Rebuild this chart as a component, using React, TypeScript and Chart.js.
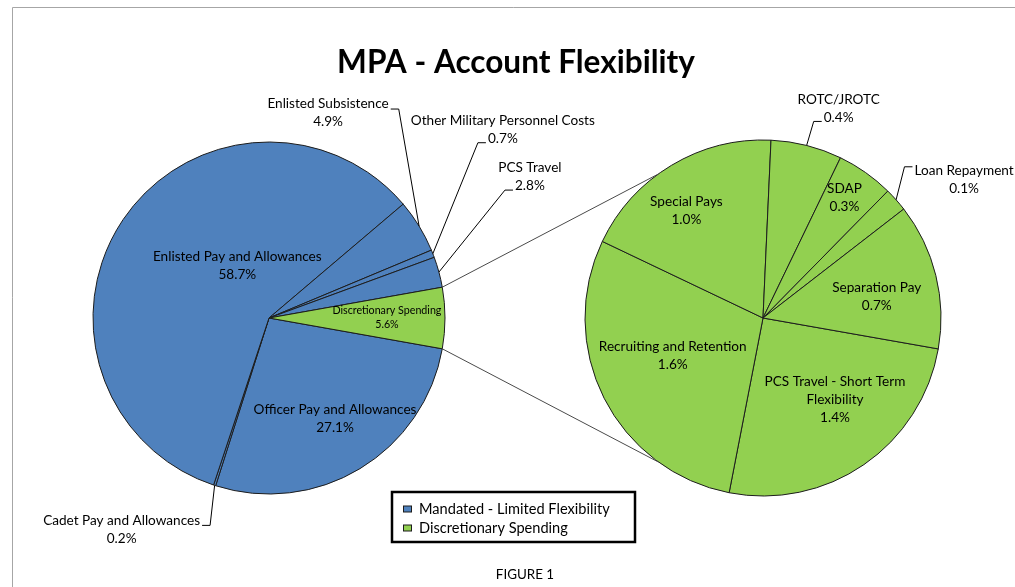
import React, { useEffect, useRef } from "react";
import { Chart, registerables } from "chart.js";

Chart.register(...registerables);

// ---------- DATA ----------
const chartTitle = "MPA - Account Flexibility";
const figureCaption = "FIGURE 1";
const legendLabels = ["Mandated - Limited Flexibility", "Discretionary Spending"];

const mainLabels = [
  "Officer Pay and Allowances",
  "Cadet Pay and Allowances",
  "Enlisted Pay and Allowances",
  "Enlisted Subsistence",
  "Other Military Personnel Costs",
  "PCS Travel",
  "Discretionary Spending",
];
const mainValues = [27.1, 0.2, 58.7, 4.9, 0.7, 2.8, 5.6];
const mainGroups = [0, 0, 0, 0, 0, 0, 1]; // 0 = mandated, 1 = discretionary

const detailLabels = [
  "PCS Travel - Short Term Flexibility",
  "Recruiting and Retention",
  "Special Pays",
  "ROTC/JROTC",
  "SDAP",
  "Loan Repayment",
  "Separation Pay",
];
const detailValues = [1.41, 1.62, 1.04, 0.36, 0.29, 0.12, 0.74];

// ---------- STYLE / LAYOUT ----------
const W = 1015;
const H = 587;
const BLUE = "#4F81BD";
const GREEN = "#92D050";
const FONT = "Lato, 'Open Sans', sans-serif";
const groupColors = [BLUE, GREEN];

const mainCenter = { x: 269, y: 318, r: 176 };
const detailCenter = { x: 763, y: 318, r: 178 };

type Lay = {
  mode: "in" | "out";
  f?: number;
  shift?: number;
  size?: number;
  lh?: number;
  wrap?: number;
  dx?: number;
  dy?: number;
  side?: "left" | "right";
  line?: number;
  ly?: number;
};

const mainLayout: Lay[] = [
  { mode: "in", f: 0.686, shift: -2 },
  { mode: "out", dx: -93, dy: 35, side: "right", line: 0, ly: 5 },
  { mode: "in", f: 0.35, shift: 25 },
  { mode: "out", dx: -91, dy: -122, side: "right", line: 0, ly: 5 },
  { mode: "out", dx: 70, dy: -133, side: "left", line: 1, ly: 4 },
  { mode: "out", dx: 91, dy: -104, side: "left", line: 1, ly: 4 },
  { mode: "in", f: 0.67, shift: 0, size: 10.7, lh: 14 },
];

const detailLayout: Lay[] = [
  { mode: "in", f: 0.61, shift: -7, wrap: 23 },
  { mode: "in", f: 0.55, shift: 4 },
  { mode: "in", f: 0.74, shift: -4.6 },
  { mode: "out", dx: 32, dy: -46, side: "left", line: 1, ly: 4 },
  { mode: "in", f: 0.815, shift: -1 },
  { mode: "out", dx: 68, dy: -29, side: "left", line: 0, ly: -4 },
  { mode: "in", f: 0.65, shift: 3.4 },
];

function wrapText(s: string, max?: number): string[] {
  if (!max) return [s];
  const words = s.split(" ");
  const out: string[] = [];
  let cur = "";
  for (const w of words) {
    const t = cur ? cur + " " + w : w;
    if (t.length > max && cur) {
      out.push(cur);
      cur = w;
    } else cur = t;
  }
  if (cur) out.push(cur);
  return out;
}

function makeLabelPlugin(id: string, names: string[], values: number[], layout: Lay[]) {
  return {
    id,
    afterDatasetsDraw(chart: any) {
      const ctx = chart.ctx as CanvasRenderingContext2D;
      const meta = chart.getDatasetMeta(0);
      meta.data.forEach((el: any, i: number) => {
        const p = el.getProps(["x", "y", "startAngle", "endAngle", "outerRadius"], true);
        const L = layout[i];
        const mid = (p.startAngle + p.endAngle) / 2;
        const lines = wrapText(names[i], L.wrap);
        lines.push(values[i].toFixed(1) + "%");
        const size = L.size || 13.6;
        const lh = L.lh || 18;
        ctx.save();
        ctx.font = `${size}px ${FONT}`;
        ctx.fillStyle = "#000";
        ctx.textAlign = "center";
        ctx.textBaseline = "middle";
        if (L.mode === "in") {
          const a = mid + ((L.shift || 0) * Math.PI) / 180;
          const cx = p.x + Math.cos(a) * p.outerRadius * (L.f || 0.6);
          const cy = p.y + Math.sin(a) * p.outerRadius * (L.f || 0.6);
          const y0 = cy - ((lines.length - 1) * lh) / 2;
          lines.forEach((t, k) => ctx.fillText(t, cx, y0 + k * lh));
        } else {
          const ex = p.x + Math.cos(mid) * p.outerRadius;
          const ey = p.y + Math.sin(mid) * p.outerRadius;
          const cx = ex + (L.dx || 0);
          const cy0 = ey + (L.dy || 0);
          lines.forEach((t, k) => ctx.fillText(t, cx, cy0 + k * lh));
          const li = L.line || 0;
          const tw = ctx.measureText(lines[li]).width;
          const yy = cy0 + li * lh + (L.ly || 0);
          const sx = L.side === "right" ? cx + tw / 2 + 2 : cx - tw / 2 - 2;
          const kx = L.side === "right" ? sx + 8 : sx - 8;
          ctx.strokeStyle = "#000";
          ctx.lineWidth = 1;
          ctx.beginPath();
          ctx.moveTo(sx, yy);
          ctx.lineTo(kx, yy);
          ctx.lineTo(ex, ey);
          ctx.stroke();
        }
        ctx.restore();
      });
    },
  };
}

const decorPlugin = {
  id: "decor",
  afterDraw(chart: any) {
    const ctx = chart.ctx as CanvasRenderingContext2D;
    ctx.save();
    // frame
    ctx.strokeStyle = "#a6a6a6";
    ctx.lineWidth = 1;
    ctx.beginPath();
    ctx.moveTo(12.5, H);
    ctx.lineTo(12.5, 7.5);
    ctx.lineTo(W, 7.5);
    ctx.stroke();
    // title
    ctx.font = `bold 30px ${FONT}`;
    const tw = ctx.measureText(chartTitle).width;
    const ts = (30 * 358) / tw;
    ctx.font = `bold ${ts}px ${FONT}`;
    ctx.fillStyle = "#000";
    ctx.textAlign = "center";
    ctx.textBaseline = "alphabetic";
    ctx.fillText(chartTitle, 516, 73);
    // legend
    ctx.lineWidth = 2.5;
    ctx.strokeStyle = "#000";
    ctx.strokeRect(392, 492, 243, 50);
    ctx.font = `14.6px ${FONT}`;
    ctx.textAlign = "left";
    ctx.textBaseline = "middle";
    legendLabels.forEach((t, k) => {
      const y = 509 + k * 19;
      ctx.fillStyle = groupColors[k];
      ctx.fillRect(403, y - 3, 9, 6);
      ctx.lineWidth = 1;
      ctx.strokeStyle = "#1c1c1c";
      ctx.strokeRect(403.5, y - 3, 8, 6);
      ctx.fillStyle = "#000";
      ctx.fillText(t, 419, y + 0.5);
    });
    // caption
    ctx.font = `13.4px ${FONT}`;
    ctx.textAlign = "center";
    ctx.fillText(figureCaption, 525, 575);
    ctx.restore();
  },
};

export default function App() {
  const refA = useRef<HTMLCanvasElement>(null);
  const refB = useRef<HTMLCanvasElement>(null);

  useEffect(() => {
    if (!refA.current || !refB.current) return;
    const total = mainValues.reduce((a, b) => a + b, 0);
    const discIdx = mainGroups.indexOf(1);
    const chartA = new Chart(refA.current, {
      type: "pie",
      data: {
        labels: mainLabels,
        datasets: [
          {
            data: mainValues,
            backgroundColor: mainGroups.map((g) => groupColors[g]),
            borderColor: "#1c1c1c",
            borderWidth: 1,
          },
        ],
      },
      options: {
        responsive: false,
        animation: false,
        devicePixelRatio: 1,
        events: [],
        rotation: 90 + (mainValues[discIdx] / total) * 180,
        radius: mainCenter.r,
        layout: {
          padding: {
            left: 0,
            right: W - 2 * mainCenter.x,
            top: 2 * mainCenter.y - H,
            bottom: 0,
          },
        },
        plugins: {
          legend: { display: false },
          tooltip: { enabled: false },
          title: { display: false },
        },
      } as any,
      plugins: [makeLabelPlugin("mainLabels", mainLabels, mainValues, mainLayout), decorPlugin],
    });

    const connectorPlugin = {
      id: "connectors",
      afterDatasetsDraw(chart: any) {
        const ctx = chart.ctx as CanvasRenderingContext2D;
        const d = chartA.getDatasetMeta(0).data[discIdx] as any;
        const pa = d.getProps(["x", "y", "startAngle", "endAngle", "outerRadius"], true);
        const b = chart.getDatasetMeta(0).data[0] as any;
        const pb = b.getProps(["x", "y", "outerRadius"], true);
        const up = (234 * Math.PI) / 180;
        const dn = (126 * Math.PI) / 180;
        ctx.save();
        ctx.strokeStyle = "#4a4a4a";
        ctx.lineWidth = 1;
        ctx.beginPath();
        ctx.moveTo(pa.x + Math.cos(pa.startAngle) * pa.outerRadius, pa.y + Math.sin(pa.startAngle) * pa.outerRadius);
        ctx.lineTo(pb.x + Math.cos(up) * pb.outerRadius, pb.y + Math.sin(up) * pb.outerRadius);
        ctx.moveTo(pa.x + Math.cos(pa.endAngle) * pa.outerRadius, pa.y + Math.sin(pa.endAngle) * pa.outerRadius);
        ctx.lineTo(pb.x + Math.cos(dn) * pb.outerRadius, pb.y + Math.sin(dn) * pb.outerRadius);
        ctx.stroke();
        ctx.restore();
      },
    };

    const chartB = new Chart(refB.current, {
      type: "pie",
      data: {
        labels: detailLabels,
        datasets: [
          {
            data: detailValues,
            backgroundColor: GREEN,
            borderColor: "#1c1c1c",
            borderWidth: 1,
          },
        ],
      },
      options: {
        responsive: false,
        animation: false,
        devicePixelRatio: 1,
        events: [],
        rotation: 100,
        radius: detailCenter.r,
        layout: {
          padding: {
            left: 2 * detailCenter.x - W,
            right: 0,
            top: 2 * detailCenter.y - H,
            bottom: 0,
          },
        },
        plugins: {
          legend: { display: false },
          tooltip: { enabled: false },
          title: { display: false },
        },
      } as any,
      plugins: [connectorPlugin, makeLabelPlugin("detailLabels", detailLabels, detailValues, detailLayout)],
    });

    return () => {
      chartB.destroy();
      chartA.destroy();
    };
  }, []);

  return (
    <div style={{ position: "absolute", left: 0, top: 0, width: W, height: H, background: "#fff", overflow: "hidden" }}>
      <canvas ref={refA} width={W} height={H} style={{ position: "absolute", left: 0, top: 0 }} />
      <canvas ref={refB} width={W} height={H} style={{ position: "absolute", left: 0, top: 0 }} />
    </div>
  );
}
